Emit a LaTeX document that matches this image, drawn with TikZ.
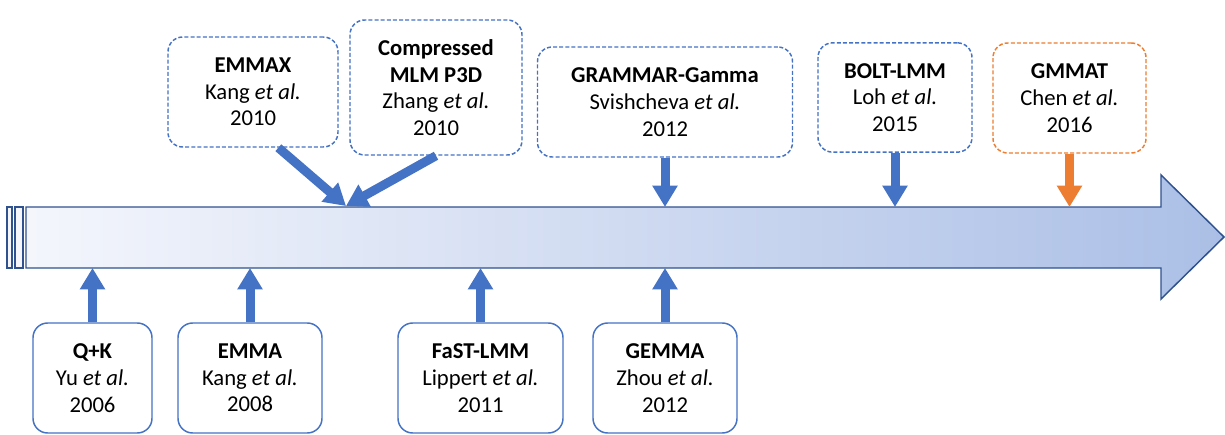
\documentclass[tikz,border=0pt]{standalone}
\usepackage{fontspec}
\setmainfont{Carlito}
\usetikzlibrary{arrows.meta}
\definecolor{accblue}{HTML}{4472C4}
\definecolor{accorange}{HTML}{ED7D31}
\definecolor{lineblue}{HTML}{2F528F}
\definecolor{paleblue}{HTML}{F4F6FC}
\definecolor{midblue}{HTML}{ABBFE6}
\begin{document}
\begin{tikzpicture}[x=0.75pt,y=-0.75pt,
  paper/.style={draw=accblue, line width=1.1pt, rounded corners=11pt, align=center,
    inner sep=2pt, font=\fontsize{17}{20}\selectfont},
  later/.style={paper, dashed, dash pattern=on 3pt off 1.6pt},
  pointer/.style={accblue, line width=6.75pt, -{Triangle[width=18pt,length=16pt]}}]
  \useasboundingbox (0,0) rectangle (1225,435);
  % timeline
  \draw[lineblue, line width=1.1pt, left color=paleblue, right color=midblue]
    (26,207) -- (1161,207) -- (1161,175) -- (1224,237) -- (1161,299) -- (1161,268) -- (26,268) -- cycle;
  \draw[lineblue, line width=1.1pt, fill=paleblue] (7,207) rectangle (12,268);
  \draw[lineblue, line width=1.1pt, fill=paleblue] (15,207) rectangle (23,268);
  \coordinate (top) at (0,207);
  \coordinate (bot) at (0,268);
  \coordinate (meet) at (346,206);
  % below the line
  \node[paper, minimum width=89.25pt, minimum height=82.5pt] (qk) at (92.5,378) {\textbf{Q+K}\\Yu \textit{et al.}\\2006};
  \node[paper, minimum width=108pt, minimum height=82.5pt] (emma) at (250,378) {\textbf{EMMA}\\Kang \textit{et al.}\\2008};
  \node[paper, minimum width=123.75pt, minimum height=82.5pt] (fastlmm) at (480.5,378) {\textbf{FaST-LMM}\\Lippert \textit{et al.}\\2011};
  \node[paper, minimum width=108pt, minimum height=82.5pt] (gemma) at (665,378) {\textbf{GEMMA}\\Zhou \textit{et al.}\\2012};
  % above the line
  \node[later, minimum width=127.5pt, minimum height=82.5pt] (emmax) at (253,92) {\textbf{EMMAX}\\Kang \textit{et al.}\\2010};
  \node[later, minimum width=129pt, minimum height=101.25pt] (cmlm) at (436,87.5) {\textbf{Compressed}\\\textbf{MLM P3D}\\Zhang \textit{et al.}\\2010};
  \node[later, minimum width=191.25pt, minimum height=82.5pt] (grammar) at (665,102) {\textbf{GRAMMAR-Gamma}\\Svishcheva \textit{et al.}\\2012};
  \node[later, minimum width=115.5pt, minimum height=82pt] (bolt) at (895,97.5) {\textbf{BOLT-LMM}\\Loh \textit{et al.}\\2015};
  \node[later, draw=accorange, minimum width=114.75pt, minimum height=82.5pt] (gmmat) at (1069.5,98) {\textbf{GMMAT}\\Chen \textit{et al.}\\2016};
  % arrows
  \draw[pointer] (qk.north) -- (qk.north |- bot);
  \draw[pointer] (emma.north) -- (emma.north |- bot);
  \draw[pointer] (fastlmm.north) -- (fastlmm.north |- bot);
  \draw[pointer] (gemma.north) -- (gemma.north |- bot);
  \draw[pointer] ([xshift=19pt]emmax.south) -- (meet);
  \draw[pointer] (cmlm.south) -- (meet);
  \draw[pointer] (grammar.south) -- (grammar.south |- top);
  \draw[pointer] (bolt.south) -- (bolt.south |- top);
  \draw[pointer, accorange] (gmmat.south) -- (gmmat.south |- top);
\end{tikzpicture}
\end{document}
